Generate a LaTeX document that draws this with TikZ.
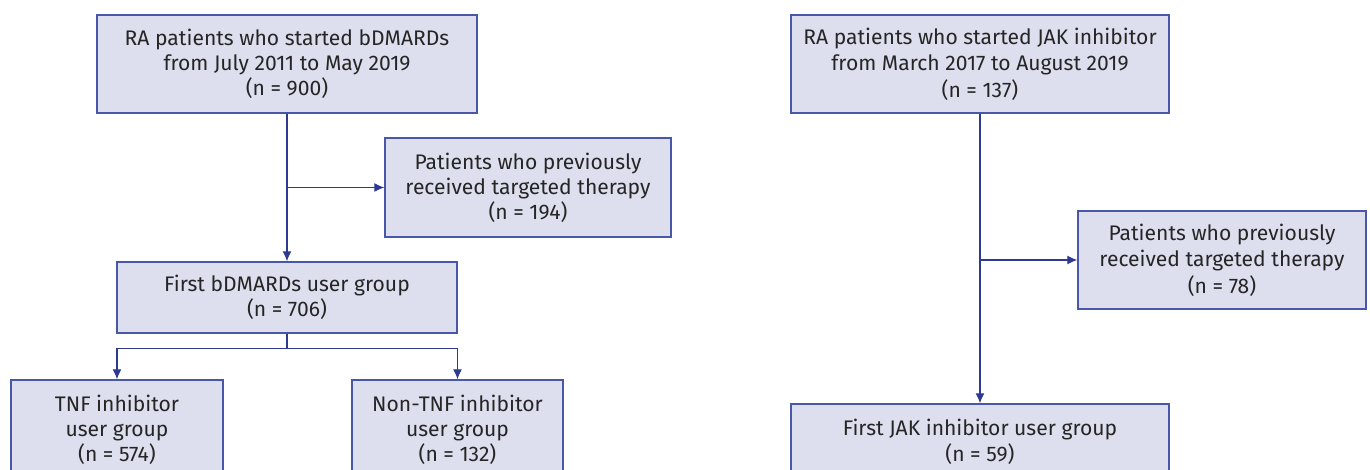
\documentclass[tikz,border=0pt]{standalone}
\usepackage{fontspec}
\setmainfont{Fira Sans}
\usetikzlibrary{calc,arrows.meta}
\definecolor{boxfill}{HTML}{DEDFEE}
\definecolor{boxdraw}{HTML}{4857A8}
\definecolor{linkcol}{HTML}{2E3A8F}
\definecolor{textcol}{HTML}{252525}
\tikzset{
  flowbox/.style={draw=boxdraw, fill=boxfill, line width=0.8pt, inner sep=0pt,
    align=center, text=textcol, font=\fontsize{12}{14.3}\selectfont},
  jakbox/.style={flowbox, font=\fontsize{12}{15.1}\selectfont},
  flowline/.style={draw=linkcol, line width=0.7pt, -{Latex[length=2mm,width=1.8mm]}},
}
\begin{document}
\begin{tikzpicture}[x=0.02cm, y=-0.02cm]
    \useasboundingbox (0,0) rectangle (1370,470);
    \clip (0,0) rectangle (1370,470);
    % bDMARDs cohort
    \node[flowbox, minimum width=7.6cm, minimum height=1.96cm] (rabdmard) at (287,64)
        {RA patients who started bDMARDs\\from July 2011 to May 2019\\(n = 900)};
    \node[flowbox, minimum width=5.72cm, minimum height=1.98cm] (prevbdmard) at (528,187.5)
        {Patients who previously\\received targeted therapy\\(n = 194)};
    \node[flowbox, minimum width=6.8cm, minimum height=1.42cm] (firstbdmard) at (287,297.5)
        {First bDMARDs user group\\(n = 706)};
    \node[flowbox, minimum width=4.24cm, minimum height=2cm] (tnf) at (117,430)
        {TNF inhibitor\\user group\\(n = 574)};
    \node[flowbox, minimum width=4.22cm, minimum height=2cm] (nontnf) at (457.5,430)
        {Non-TNF inhibitor\\user group\\(n = 132)};
    \coordinate (split) at ($(firstbdmard.south)+(0,15)$);
    \draw[flowline] (rabdmard.south) -- (firstbdmard.north);
    \draw[flowline] (rabdmard.south |- prevbdmard.west) -- (prevbdmard.west);
    \draw[linkcol, line width=0.7pt] (firstbdmard.south) -- (split);
    \draw[flowline] (split) -| (tnf.north);
    \draw[flowline] (split) -| (nontnf.north);
    % JAK inhibitor cohort
    \node[jakbox, minimum width=7.56cm, minimum height=1.96cm] (rajak) at (980,64)
        {RA patients who started JAK inhibitor\\from March 2017 to August 2019\\(n = 137)};
    \node[jakbox, minimum width=5.76cm, minimum height=1.96cm] (prevjak) at (1222,260)
        {Patients who previously\\received targeted therapy\\(n = 78)};
    \node[jakbox, minimum width=7.56cm, minimum height=1.52cm] (firstjak) at (980,442)
        {First JAK inhibitor user group\\(n = 59)};
    \draw[flowline] (rajak.south) -- (firstjak.north);
    \draw[flowline] (rajak.south |- prevjak.west) -- (prevjak.west);
\end{tikzpicture}
\end{document}
